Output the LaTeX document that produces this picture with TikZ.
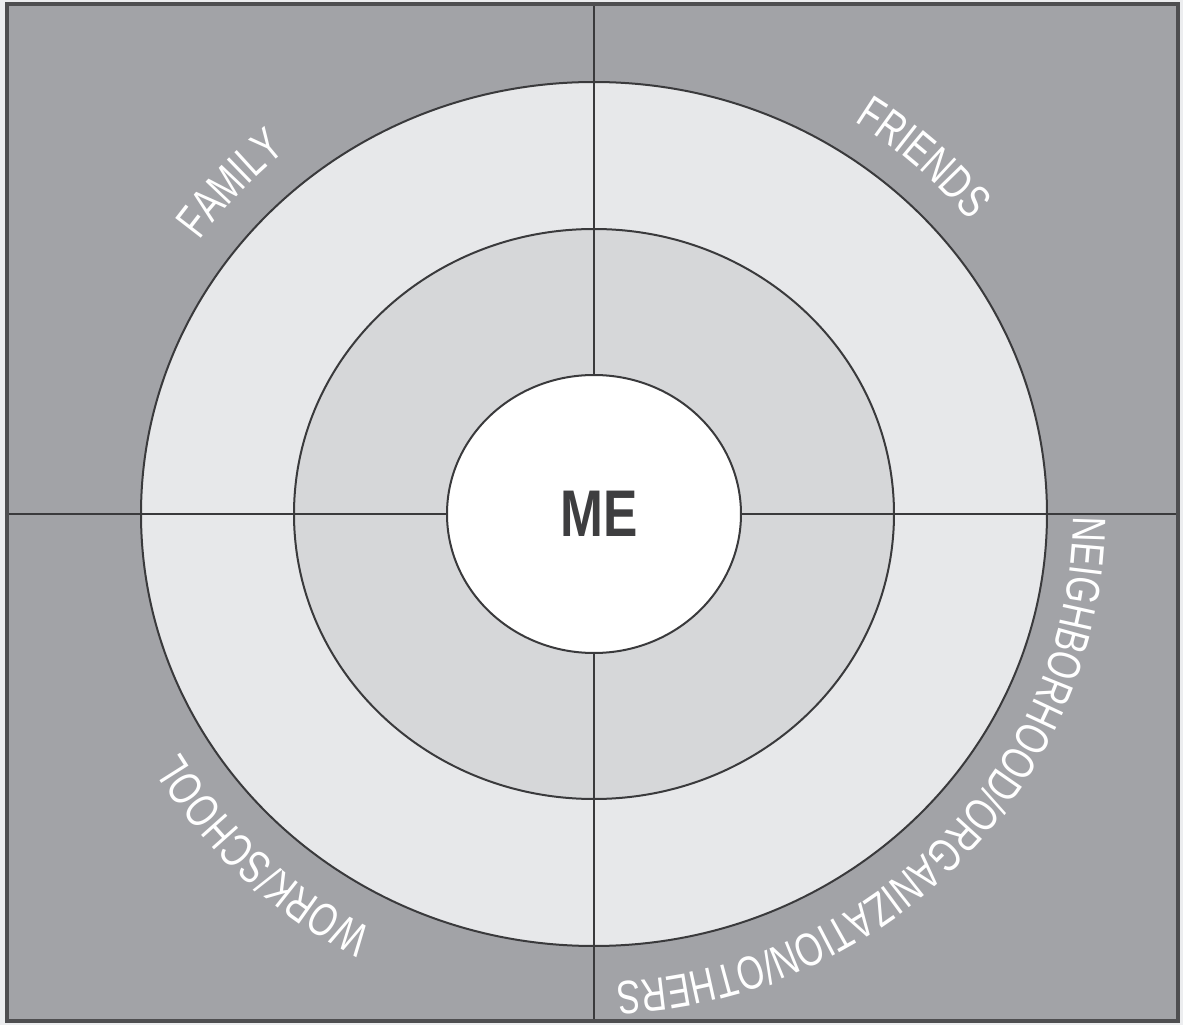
\documentclass[tikz,border=0pt]{standalone}
\usepackage{fontspec}
\newfontfamily\ringfont[FakeStretch=0.74]{Liberation Sans}
\newfontfamily\mefont[FakeStretch=0.78]{Liberation Sans}
\usetikzlibrary{decorations.text}

\begin{document}
\begin{tikzpicture}[
    x=1pt,
    y=1pt,
    frame edge/.style={draw=frameLine, line width=3.2pt},
    ring edge/.style={draw=ringLine, line width=2pt},
    cross line/.style={draw=ringLine, line width=2.4pt},
    ring label/.style={decorate, decoration={text along path, text align=center,
      text color=white}},
    me label/.style={font=\mefont\bfseries\fontsize{66}{66}\selectfont, text=meText,
      inner sep=0pt}
]

\definecolor{pageBack}{RGB}{236,237,239}
\definecolor{quadBack}{RGB}{162,163,167}
\definecolor{outerRing}{RGB}{231,232,234}
\definecolor{middleRing}{RGB}{214,215,217}
\definecolor{ringLine}{RGB}{58,58,60}
\definecolor{frameLine}{RGB}{78,78,80}
\definecolor{meText}{RGB}{62,62,64}

\newcommand{\ringLabelFont}{\ringfont\fontsize{47}{47}\selectfont}

% Page and frame corners.
\coordinate (pageSW) at (-594,-511);
\coordinate (pageNE) at (589,514);
\coordinate (frameSW) at (-587,-507);
\coordinate (frameNE) at (584,510);
\coordinate (crossW) at (-587,0);
\coordinate (crossE) at (584,0);
\coordinate (crossS) at (0,-507);
\coordinate (crossN) at (0,510);

\useasboundingbox (pageSW) rectangle (pageNE);
\fill[pageBack] (pageSW) rectangle (pageNE);
\fill[quadBack] (frameSW) rectangle (frameNE);

% Rings, outer to inner.
\fill[outerRing] (0,0) ellipse [x radius=453, y radius=432];
\fill[middleRing] (0,0) ellipse [x radius=300, y radius=285];

% Quadrant lines.
\draw[cross line] (crossW) -- (crossE);
\draw[cross line] (crossS) -- (crossN);

\draw[ring edge] (0,0) ellipse [x radius=453, y radius=432];
\draw[ring edge] (0,0) ellipse [x radius=300, y radius=285];
\draw[ring edge, fill=white] (0,0) ellipse [x radius=147, y radius=139];
\draw[frame edge] (frameSW) rectangle (frameNE);

\node[me label] (me) at (5,0) {ME};

% Curved quadrant labels outside the outer ring.
\path[ring label, decoration={text={|\ringLabelFont|FAMILY}}]
  (157:485 and 470) arc[start angle=157, end angle=117, x radius=485, y radius=470];
\path[ring label, decoration={text={|\ringLabelFont|FRIENDS}}]
  (69:482 and 466) arc[start angle=69, end angle=27, x radius=482, y radius=466];
\path[ring label, decoration={text={|\ringLabelFont|WORK/SCHOOL}}]
  (-110:480 and 468) arc[start angle=-110, end angle=-157, x radius=480, y radius=468];
\path[ring label, decoration={text align=left,
    text={|\ringLabelFont|NEIGHBORHOOD/ORGANIZATION/OTHERS}}]
  (-0.3:479 and 468) arc[start angle=-0.3, end angle=-100, x radius=479, y radius=468];

\end{tikzpicture}
\end{document}
